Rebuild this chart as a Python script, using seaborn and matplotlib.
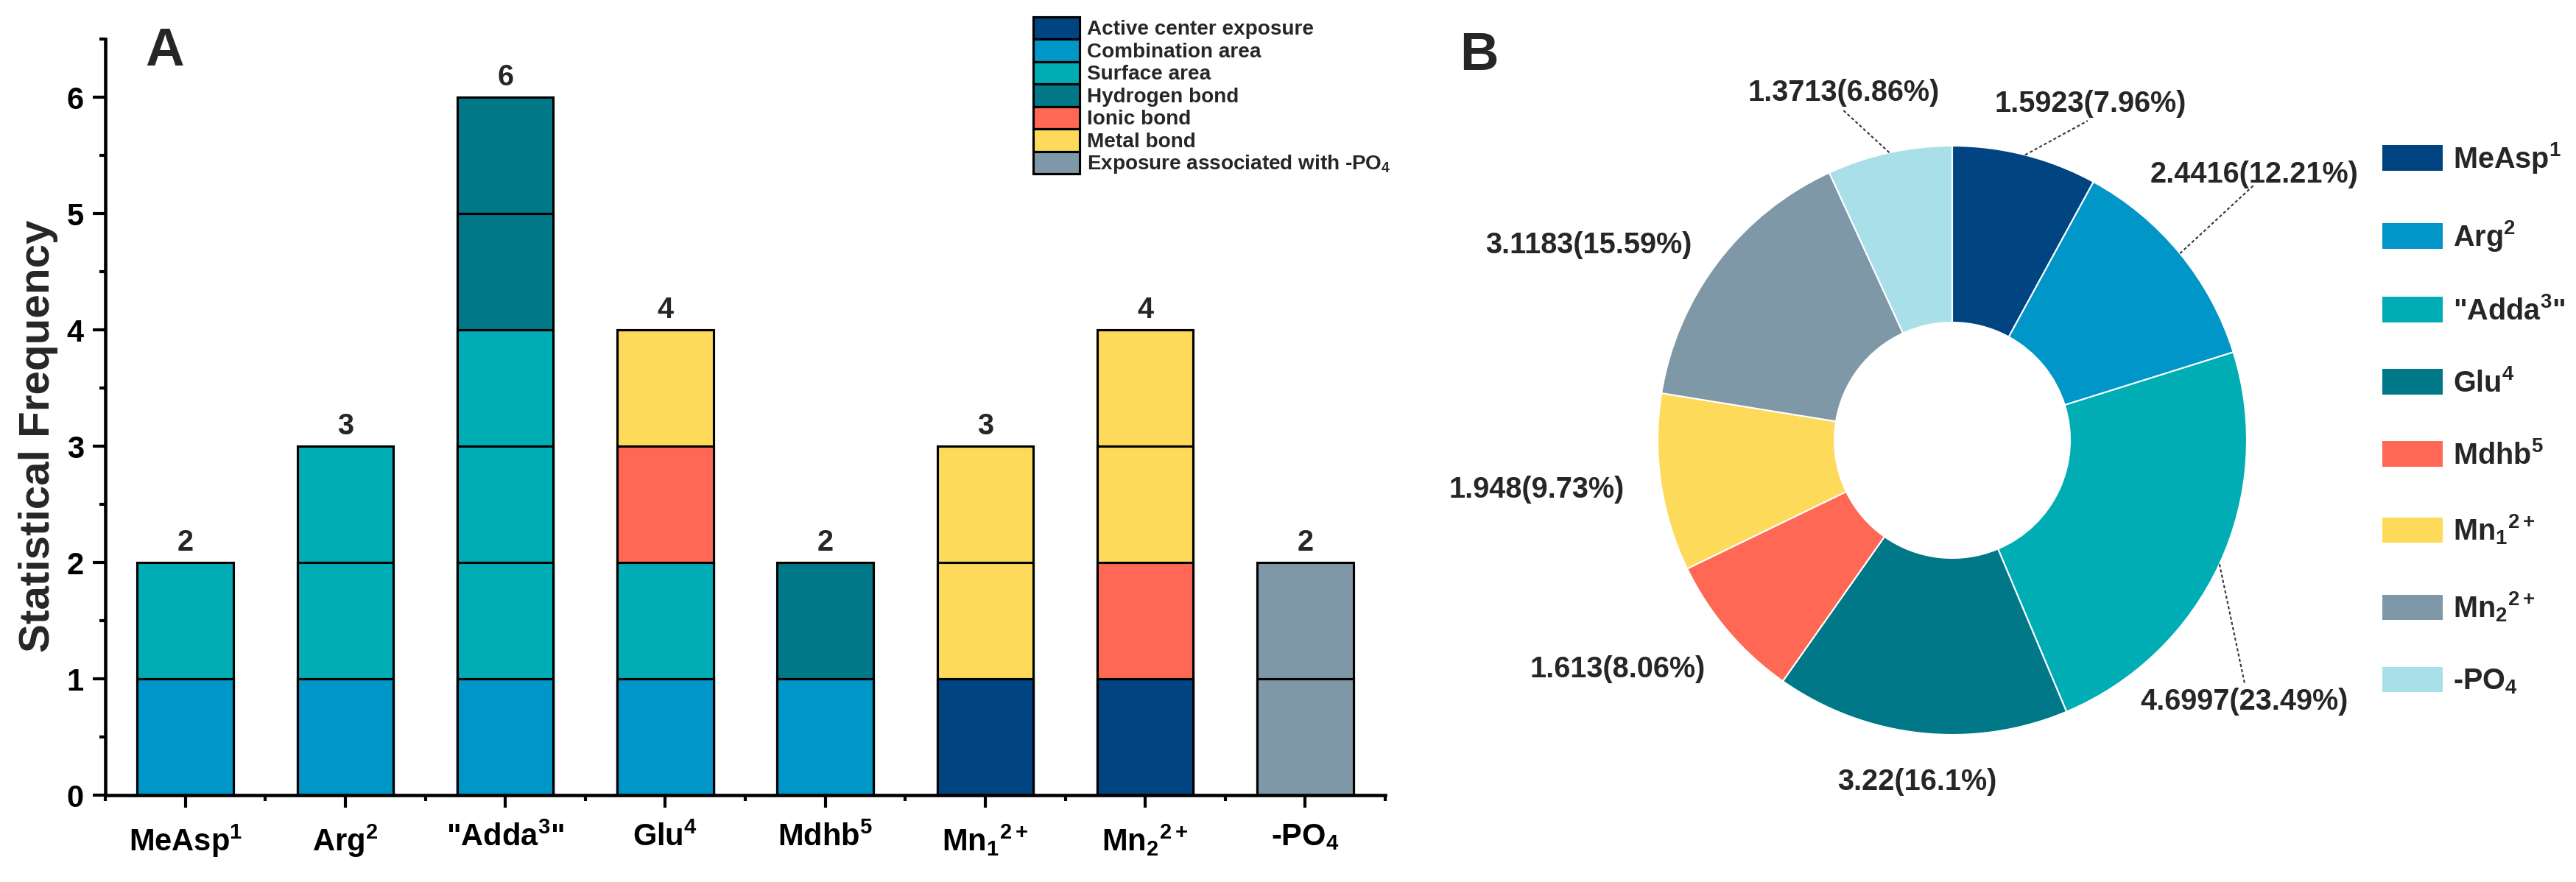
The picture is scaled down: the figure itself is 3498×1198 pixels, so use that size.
"""Panel A: stacked interaction counts per residue; panel B: donut of residue contributions."""

import matplotlib.pyplot as plt
import numpy as np
import pandas as pd
import seaborn as sns
from matplotlib.patches import Patch
from matplotlib.ticker import FixedLocator, MultipleLocator

# ---- data -----------------------------------------------------------------
RESIDUES = [
    "MeAsp$^{1}$", "Arg$^{2}$", '"Adda$^{3}$"', "Glu$^{4}$",
    "Mdhb$^{5}$", "Mn$_{1}{}^{2+}$", "Mn$_{2}{}^{2+}$", "-PO$_{4}$",
]
INTERACTIONS = [
    "Active center exposure", "Combination area", "Surface area",
    "Hydrogen bond", "Ionic bond", "Metal bond",
    "Exposure associated with -PO$_{4}$",
]
# counts per residue for each interaction type (stacked bottom -> top in this order)
ACTIVE_CENTER = [0, 0, 0, 0, 0, 1, 1, 0]
COMBINATION = [1, 1, 1, 1, 1, 0, 0, 0]
SURFACE = [1, 2, 3, 1, 0, 0, 0, 0]
HYDROGEN = [0, 0, 2, 0, 1, 0, 0, 0]
IONIC = [0, 0, 0, 1, 0, 0, 1, 0]
METAL = [0, 0, 0, 1, 0, 2, 2, 0]
PO4_EXPOSURE = [0, 0, 0, 0, 0, 0, 0, 2]

PIE_VALUES = [1.5923, 2.4416, 4.6997, 3.22, 1.613, 1.948, 3.1183, 1.3713]
PIE_LABELS = [
    "1.5923(7.96%)", "2.4416(12.21%)", "4.6997(23.49%)", "3.22(16.1%)",
    "1.613(8.06%)", "1.948(9.73%)", "3.1183(15.59%)", "1.3713(6.86%)",
]

# ---- style ----------------------------------------------------------------
INTERACTION_COLORS = ["#004482", "#0096C7", "#00ADB5", "#007888",
                      "#FF6855", "#FDDA5A", "#7F98A8"]
PIE_COLORS = ["#004482", "#0096C7", "#00ADB5", "#007888",
              "#FF6855", "#FDDA5A", "#7F98A8", "#A8DFE8"]
# label centres for the donut, in data units (radius = 1)
PIE_LABEL_POS = [(0.469, 1.1425), (1.025, 0.9025), (0.991, -0.888), (-0.119, -1.16),
                 (-1.136, -0.7775), (-1.41, -0.1675), (-1.234, 0.6625), (-0.369, 1.18)]
# leader line end points (start is the wedge mid-angle on the rim)
LEADER_ENDS = {0: (0.46, 1.085), 1: (1.0225, 0.865), 2: (0.9925, -0.825),
               7: (-0.372, 1.1225)}

W, H, DPI = 3498, 1198, 300

sns.set_style("ticks")
plt.rcParams["font.family"] = ["Liberation Sans", "DejaVu Sans"]
plt.rcParams.update({
    "font.weight": "bold",
    "axes.labelweight": "bold",
    "mathtext.fontset": "custom",
    "mathtext.rm": "Liberation Sans:bold",
    "mathtext.it": "Liberation Sans:bold:italic",
    "mathtext.bf": "Liberation Sans:bold",
    "mathtext.default": "rm",
    "axes.edgecolor": "black",
    "xtick.color": "black",
    "ytick.color": "black",
})


def px_rect(left, top, right, bottom):
    """Figure-fraction rectangle from pixel edges."""
    return [left / W, 1 - bottom / H, (right - left) / W, (bottom - top) / H]


def build_segments():
    """One row per unit block of the stacked bars."""
    counts = [ACTIVE_CENTER, COMBINATION, SURFACE, HYDROGEN, IONIC, METAL, PO4_EXPOSURE]
    rows = []
    for i, res in enumerate(RESIDUES):
        level = 0
        for kind, arr in zip(INTERACTIONS, counts):
            for _ in range(arr[i]):
                level += 1
                rows.append({"residue": res, "interaction": kind, "top": level})
    return pd.DataFrame(rows)


def draw_bars(ax):
    seg = build_segments()
    palette = dict(zip(INTERACTIONS, INTERACTION_COLORS))
    # draw tallest blocks first so each lower block overlays and leaves a divider line
    for top in sorted(seg["top"].unique(), reverse=True):
        sns.barplot(
            data=seg[seg["top"] == top], x="residue", y="top",
            hue="interaction", order=RESIDUES, hue_order=INTERACTIONS,
            palette=palette, dodge=False, width=0.6, saturation=1,
            edgecolor="black", linewidth=0.75, errorbar=None, legend=False, ax=ax,
        )
    totals = seg.groupby("residue")["top"].max().reindex(RESIDUES)
    for i, tot in enumerate(totals):
        ax.text(i, tot + 0.05, f"{tot}", ha="center", va="bottom",
                fontsize=9.5, fontweight="bold")

    ax.set_xlim(-0.5, len(RESIDUES) - 0.5)
    ax.set_ylim(0, 6.5)
    ax.yaxis.set_major_locator(MultipleLocator(1))
    ax.yaxis.set_minor_locator(MultipleLocator(0.5))
    ax.xaxis.set_minor_locator(FixedLocator(np.arange(-0.5, len(RESIDUES), 1)))
    ax.set_xlabel("")
    ax.set_ylabel("Statistical Frequency", fontsize=14, fontweight="bold")
    ax.yaxis.set_label_coords(-0.037, 0.475)
    sns.despine(ax=ax)
    for sp in ("left", "bottom"):
        ax.spines[sp].set_linewidth(1.1)
    ax.tick_params(axis="both", which="major", length=4, width=1.0, labelsize=10)
    ax.tick_params(axis="both", which="minor", length=2, width=1.0)
    ax.tick_params(axis="y", pad=3)
    ax.tick_params(axis="x", pad=5)

    handles = [Patch(facecolor=c, edgecolor="black", linewidth=0.75)
               for c in INTERACTION_COLORS]
    ax.legend(handles, INTERACTIONS, loc="upper left",
              bbox_to_anchor=(1403 / W, 1 - 23 / H), bbox_transform=ax.figure.transFigure,
              frameon=False, fontsize=6.7, handlelength=2.25, handleheight=1.29,
              labelspacing=0.0, handletextpad=0.35, borderpad=0, borderaxespad=0)


def draw_donut(ax):
    wedges, _ = ax.pie(
        PIE_VALUES, colors=PIE_COLORS, startangle=90, counterclock=False,
        wedgeprops=dict(width=0.6, edgecolor="white", linewidth=0.5),
    )
    ax.set_xlim(-1.375, 1.375)
    ax.set_ylim(-1.375, 1.375)
    ax.set_aspect("equal")
    ax.axis("off")

    for (x, y), lab in zip(PIE_LABEL_POS, PIE_LABELS):
        ax.text(x, y, lab, ha="center", va="center", fontsize=9.5, fontweight="bold")
    for idx, (ex, ey) in LEADER_ENDS.items():
        w = wedges[idx]
        mid = np.deg2rad((w.theta1 + w.theta2) / 2)
        ax.plot([np.cos(mid), ex], [np.sin(mid), ey], color="#333333",
                linewidth=0.5, linestyle=(0, (2, 1.5)))

    handles = [Patch(facecolor=c, edgecolor="none") for c in PIE_COLORS]
    ax.legend(handles, RESIDUES, loc="upper left",
              bbox_to_anchor=(3235 / W, 1 - 191 / H), bbox_transform=ax.figure.transFigure,
              frameon=False, fontsize=9.5, handlelength=2.07, handleheight=0.96,
              labelspacing=1.49, handletextpad=0.35, borderpad=0, borderaxespad=0)


def main():
    fig = plt.figure(figsize=(W / DPI, H / DPI), dpi=DPI)
    ax_bar = fig.add_axes(px_rect(143, 53, 1881, 1080))
    ax_pie = fig.add_axes(px_rect(2651 - 550, 598 - 550, 2651 + 550, 598 + 550))

    draw_bars(ax_bar)
    draw_donut(ax_pie)

    fig.text(197 / W, 1 - 89 / H, "A", fontsize=17.5, fontweight="bold", va="baseline")
    fig.text(1982 / W, 1 - 95 / H, "B", fontsize=17.5, fontweight="bold", va="baseline")

    fig.savefig("out.png", dpi=DPI, facecolor="white")
    plt.close(fig)


if __name__ == "__main__":
    main()
